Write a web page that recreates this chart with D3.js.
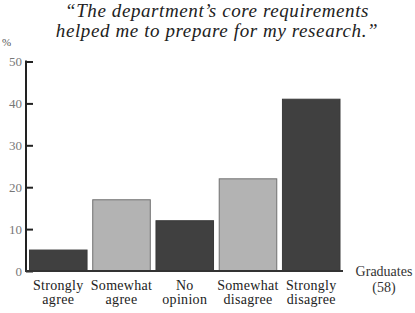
<!DOCTYPE html>
<html><head><meta charset="utf-8">
<script src="https://cdn.jsdelivr.net/npm/d3@7"></script>
<style>
html,body{margin:0;padding:0;background:#fff;}
svg{display:block;}
</style></head>
<body>
<script>
const categories = [["Strongly","agree"],["Somewhat","agree"],["No","opinion"],["Somewhat","disagree"],["Strongly","disagree"]];
const values = [5, 17, 12, 22, 41];
const shades = ["dark","light","dark","light","dark"];
const yTicks = [0, 10, 20, 30, 40, 50];
const titleLines = ["\u201CThe department\u2019s core requirements", "helped me to prepare for my research.\u201D"];
const groupLabel = ["Graduates", "(58)"];

const FONT = '"Liberation Serif"';
const W = 415, H = 313;
const svg = d3.select("body").append("svg").attr("width", W).attr("height", H);

const x = d3.scaleBand().domain(categories.map((d,i)=>i)).range([29.5, 340]).paddingInner(0.09).paddingOuter(0);
const y = d3.scaleLinear().domain([0, 50]).range([271, 61.5]);

// title
svg.append("g").selectAll("text").data(titleLines).join("text")
  .attr("x", 217).attr("y", (d,i)=> 17 + i*20)
  .attr("text-anchor","middle")
  .style("font-family", FONT)
  .style("font-style","italic")
  .style("letter-spacing","0.6px")
  .style("font-size", "19px").style("fill","#222")
  .text(d=>d);

// bars
svg.append("g").selectAll("rect").data(values).join("rect")
  .attr("x", (d,i)=> x(i))
  .attr("y", d=> y(d))
  .attr("width", x.bandwidth())
  .attr("height", d=> y(0) - y(d))
  .attr("fill", (d,i)=> shades[i]==="dark" ? "#404040" : "#b3b3b3")
  .attr("stroke", (d,i)=> shades[i]==="dark" ? "#3a3a3a" : "#707070")
  .attr("stroke-width", 1);

// y axis
const yAxis = d3.axisRight(y).tickValues(yTicks).tickSize(7).tickFormat(d3.format("d"));
const ag = svg.append("g").attr("transform","translate(26,0)").call(yAxis);
ag.select(".domain").remove();
ag.selectAll(".tick line").attr("stroke","#222").attr("stroke-width",2);
ag.selectAll(".tick text").attr("x", -4).attr("text-anchor","end")
  .style("font-family", FONT).style("font-size", "13px").style("fill","#777");
// axis line
svg.append("line").attr("x1",26).attr("x2",26).attr("y1",y(50)-1).attr("y2",y(0)+1)
  .attr("stroke","#222").attr("stroke-width",2);
// baseline
svg.append("line").attr("x1",25).attr("x2",343).attr("y1",y(0)).attr("y2",y(0))
  .attr("stroke","#333").attr("stroke-width",2);

// % label
svg.append("text").attr("x",2).attr("y",46).style("font-family", FONT).style("font-size","11px").style("fill","#555").text("%");

// category labels
const cl = svg.append("g").selectAll("text").data(categories).join("text")
  .attr("x",(d,i)=> x(i)+x.bandwidth()/2).attr("y",290)
  .attr("text-anchor","middle").style("font-family", FONT).style("font-size","14px")
  .style("letter-spacing","0.3px").style("fill","#222");
cl.selectAll("tspan").data(d=>d).join("tspan")
  .attr("x", function(){ return this.parentNode.getAttribute("x"); })
  .attr("dy",(d,i)=> i===0 ? 0 : 14).text(d=>d);

// group label
svg.append("g").selectAll("text").data(groupLabel).join("text")
  .attr("x",384).attr("y",(d,i)=> 276 + i*16)
  .attr("text-anchor","middle").style("font-family", FONT).style("font-size","14px").style("fill","#333")
  .text(d=>d);
</script>
</body></html>
